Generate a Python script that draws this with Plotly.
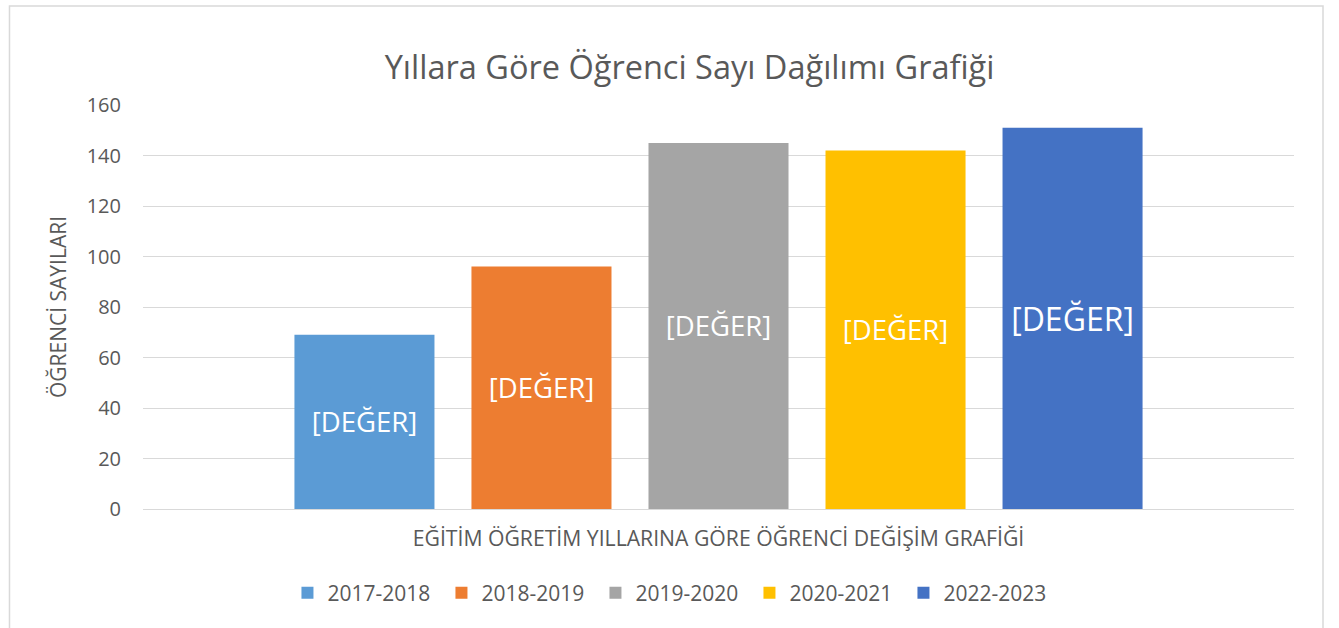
import plotly.graph_objects as go

categories = ["2017-2018", "2018-2019", "2019-2020", "2020-2021", "2022-2023"]
values = [69, 96, 145, 142, 151]
colors = ["#5B9BD5", "#ED7D31", "#A5A5A5", "#FFC000", "#4472C4"]
label_sizes = [27.5, 27.5, 27.5, 27.5, 32]
x_title = "EĞİTİM ÖĞRETİM YILLARINA GÖRE ÖĞRENCİ DEĞİŞİM GRAFİĞİ"
y_title = "ÖĞRENCİ SAYILARI"
title = "Yıllara Göre Öğrenci Sayı Dağılımı Grafiği"
y_ticks = [0, 20, 40, 60, 80, 100, 120, 140, 160]

FONT = "Open Sans"
GREY = "#595959"

fig = go.Figure()
for cat, val, col, fs in zip(categories, values, colors, label_sizes):
    fig.add_trace(go.Bar(
        x=[x_title], y=[val], name=cat,
        marker=dict(color=col, line=dict(width=0)),
        text=["[DEĞER]"], textposition="inside", insidetextanchor="middle",
        textfont=dict(color="white", size=fs, family=FONT),
        textangle=0, hoverinfo="y+name",
    ))

fig.update_layout(
    width=1339, height=628,
    margin=dict(l=143, r=45, t=105, b=119),
    paper_bgcolor="white", plot_bgcolor="white",
    font=dict(family=FONT, color=GREY),
    title=dict(text=title, x=0.515, xref="container", xanchor="center", y=0.892, yanchor="middle",
               font=dict(size=32.5, color=GREY, family=FONT)),
    barmode="group", bargap=0.231, bargroupgap=0.209,
    uniformtext=dict(mode=False),
    showlegend=True,
    legend=dict(orientation="h", x=0.46, xanchor="center", y=-0.208, yanchor="middle",
                font=dict(size=21, color=GREY, family=FONT),
                entrywidth=109, entrywidthmode="pixels",
                itemclick=False, traceorder="normal"),
    xaxis=dict(showticklabels=False, showgrid=False, zeroline=False, showline=False,
               title=dict(text=x_title, font=dict(size=21.2, color=GREY, family=FONT), standoff=22)),
    yaxis=dict(range=[0, 160], tickvals=y_ticks, showgrid=True, gridcolor="#D9D9D9", gridwidth=1,
               zeroline=True, zerolinecolor="#D9D9D9", zerolinewidth=1, showline=False,
               tickfont=dict(size=20, color=GREY, family=FONT), ticks="", ticklen=0,
               ticklabelstandoff=21,
               title=dict(text=y_title, font=dict(size=21, color=GREY, family=FONT), standoff=14)),
)

fig.add_shape(type="rect", xref="paper", yref="paper",
              x0=-0.116, x1=1.0252, y0=-0.6, y1=1.245,
              line=dict(color="#D9D9D9", width=1.5), fillcolor="rgba(0,0,0,0)", layer="below")

fig.write_html("out.html", config={"displayModeBar": False},
               post_script="document.body.style.margin='0';document.body.style.padding='0';")
